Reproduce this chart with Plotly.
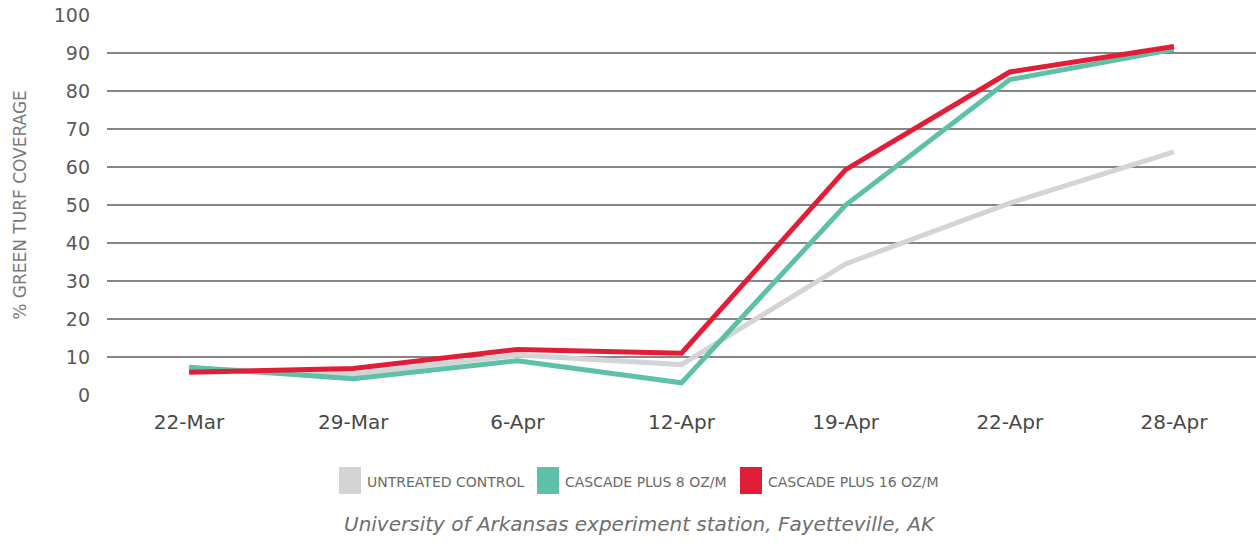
import plotly.graph_objects as go

dates = ["22-Mar", "29-Mar", "6-Apr", "12-Apr", "19-Apr", "22-Apr", "28-Apr"]
untreated = [7, 5.5, 10.5, 8, 34.5, 50.5, 64]
cascade_8 = [7.3, 4.3, 9, 3.2, 50, 83, 91]
cascade_16 = [6, 7, 12, 11, 59.3, 85, 91.7]

series_names = ["UNTREATED CONTROL", "CASCADE PLUS 8 OZ/M", "CASCADE PLUS 16 OZ/M"]
series_values = [untreated, cascade_8, cascade_16]
series_colors = ["#D3D4D6", "#5EC0A6", "#E11D38"]

y_ticks = [0, 10, 20, 30, 40, 50, 60, 70, 80, 90, 100]

W, H = 1260, 548
L, R, T, B = 107, 4, 15, 153
pw, ph = W - L - R, H - T - B

def px(x):
    return (x - L) / pw

def py(y):
    return (H - B - y) / ph

FONT = "DejaVu Sans"

fig = go.Figure()
for name, vals, col in zip(series_names, series_values, series_colors):
    fig.add_trace(go.Scatter(x=dates, y=vals, mode="lines", name=name,
                             line=dict(color=col, width=5), showlegend=False))

# manual legend
leg_sq_x = [339, 537, 740]
shapes = []
annotations = []
for sx, name, col in zip(leg_sq_x, series_names, series_colors):
    shapes.append(dict(type="rect", xref="paper", yref="paper",
                       x0=px(sx), x1=px(sx + 22), y0=py(494), y1=py(467),
                       fillcolor=col, line=dict(width=0)))
    annotations.append(dict(x=px(sx + 26), y=py(482), xref="paper", yref="paper",
                            text=name, showarrow=False, xanchor="left", yanchor="middle",
                            font=dict(family=FONT, size=14, color="#6a6a6a")))

annotations.append(dict(x=px(640), y=py(524), xref="paper", yref="paper",
                        text="<i>University of Arkansas experiment station, Fayetteville, AK</i>",
                        showarrow=False, xanchor="center", yanchor="middle",
                        font=dict(family=FONT, size=20, color="#6e6e6e")))

fig.update_layout(
    width=W, height=H,
    margin=dict(l=L, r=R, t=T, b=B, autoexpand=False),
    paper_bgcolor="white", plot_bgcolor="white",
    shapes=shapes, annotations=annotations,
    font=dict(family=FONT),
)
fig.update_xaxes(type="category", range=[-0.5, 6.5], showgrid=False, showline=False,
                 ticks="", automargin=False, ticklabelstandoff=13,
                 tickfont=dict(family=FONT, size=20, color="#484848"))
fig.update_yaxes(range=[0, 100], tickvals=y_ticks, showgrid=True, automargin=False,
                 gridcolor="#858585", gridwidth=2, zeroline=False, showline=False,
                 ticks="", ticklabelstandoff=16,
                 tickfont=dict(family=FONT, size=19, color="#5a5a5a"),
                 title=dict(text="% GREEN TURF COVERAGE", standoff=22,
                            font=dict(family=FONT, size=17, color="#7a7a7a")))

fig.write_html("out.html", config={"displayModeBar": False},
               post_script="document.body.style.margin='0';")
